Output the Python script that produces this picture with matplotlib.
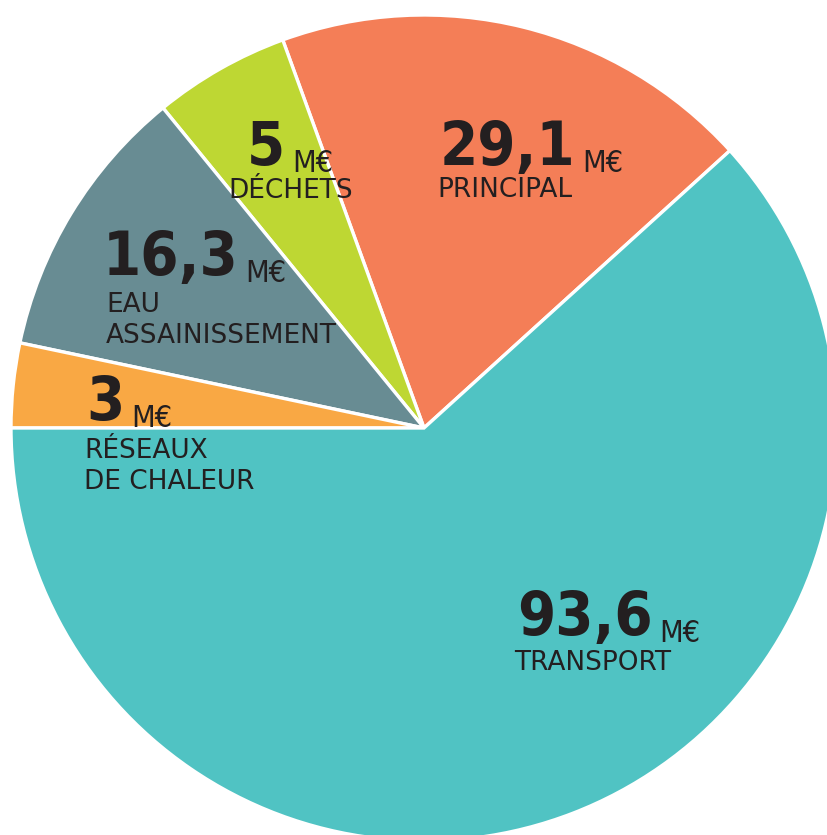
import matplotlib
matplotlib.use("Agg")
import matplotlib.pyplot as plt

W, H = 828, 835

# slices, in the order they are drawn (counter-clockwise from the top right)
labels = [["PRINCIPAL"], ["DÉCHETS"], ["EAU", "ASSAINISSEMENT"],
          ["RÉSEAUX", "DE CHALEUR"], ["TRANSPORT"]]
amounts = [29.1, 5, 16.3, 3, 93.6]
# angular share of each slice as drawn in the picture (degrees)
slice_deg = [67.8, 19.2, 38.9, 11.9, 222.2]
colors = ["#F47E57", "#BED733", "#688C93", "#F9A844", "#50C3C3"]

# where the text sits (pixels, from top left): amount and first label line
amount_pos = [(440, 165), (247, 165), (103, 275), (86, 420), (517, 635)]
label_pos = [(437, 197), (228, 198), (106, 312), (84, 458), (514, 670)]

txt_color = "#231F20"

fig = plt.figure(figsize=(W / 100, H / 100), dpi=100)
ax = fig.add_axes([0, 0, 1, 1])
ax.set_xlim(0, W)
ax.set_ylim(0, H)
ax.set_aspect("equal")
ax.axis("off")

ax.pie(slice_deg, colors=colors, startangle=42.2, counterclock=True,
       center=(424, H - 428), radius=413,
       wedgeprops=dict(edgecolor="white", linewidth=2.4))
ax.set_xlim(0, W)
ax.set_ylim(0, H)

for amt, lines, (ax0, ay0), (lx, ly) in zip(amounts, labels, amount_pos, label_pos):
    s = ("%g" % amt).replace(".", ",")
    t = ax.text(ax0, H - ay0, s, ha="left", va="baseline", color=txt_color,
                fontsize=44, fontweight="bold", fontstretch="condensed",
                family="DejaVu Sans")
    ax.annotate("M€", xy=(1, 0), xycoords=t, xytext=(5, 0),
                textcoords="offset points", ha="left", va="bottom",
                color=txt_color, fontsize=22, fontstretch="condensed",
                family="DejaVu Sans")
    for i, line in enumerate(lines):
        ax.text(lx, H - (ly + 31 * i), line, ha="left", va="baseline",
                color=txt_color, fontsize=19, family="DejaVu Sans")

fig.savefig("out.png", dpi=100)
